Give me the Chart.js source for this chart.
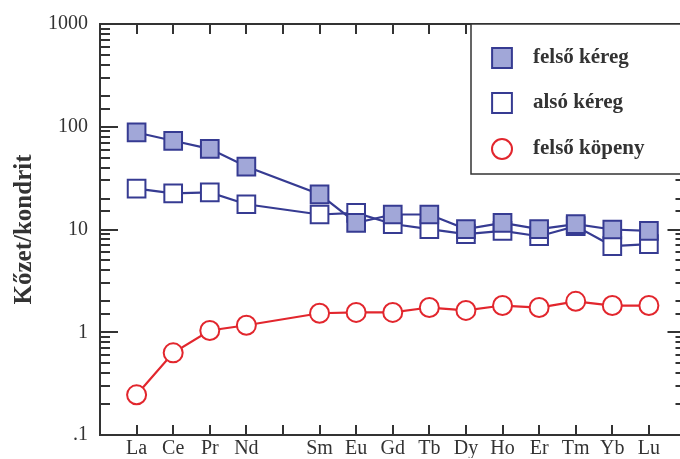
<!DOCTYPE html>
<html>
<head>
<meta charset="utf-8">
<script src="https://cdn.jsdelivr.net/npm/chart.js@4.4.1/dist/chart.umd.min.js"></script>
<style>
html, body { margin: 0; padding: 0; background: #fff; overflow: hidden; }
canvas { display: block; }
</style>
</head>
<body>
<canvas id="reeChart" width="680" height="459"></canvas>
<script>
// Chondrite-normalised REE patterns (Pm slot kept as an unlabelled tick)
const elements = ['La', 'Ce', 'Pr', 'Nd', '', 'Sm', 'Eu', 'Gd', 'Tb', 'Dy', 'Ho', 'Er', 'Tm', 'Yb', 'Lu'];
const upperCrust = [88, 73, 61, 41, null, 22, 11.6, 14, 14, 10.1, 11.6, 10.1, 11.3, 10, 9.7];
const lowerCrust = [25, 22.5, 23, 17.6, null, 14, 14.5, 11.3, 10.1, 9, 9.7, 8.6, 10.8, 6.9, 7.2];
const upperMantle = [0.246, 0.63, 1.04, 1.17, null, 1.53, 1.56, 1.56, 1.74, 1.63, 1.82, 1.74, 2.0, 1.82, 1.82];
const yTickLabels = ['.1', '1', '10', '100', '1000'];
const seriesNames = ['felső kéreg', 'alsó kéreg', 'felső köpeny'];

const navy = '#363b92';
const fillBlue = '#a1a7d8';
const red = '#e2262d';
const ink = '#333';
const serif = "'Liberation Serif', 'DejaVu Serif', serif";

const toPoints = arr => arr.map((v, i) => ({ x: i, y: v }));

// frame with inward ticks + boxed legend inside the plot.
// The original frame's right edge sits just past the image edge (x = 15).
const frameTicks = {
    id: 'frameTicks',
    afterDraw(chart) {
        const { ctx, chartArea: a, scales: { x, y } } = chart;
        const right = x.getPixelForValue(15);
        ctx.save();
        ctx.strokeStyle = ink;
        ctx.lineWidth = 2;
        ctx.strokeRect(a.left, a.top, right - a.left, a.bottom - a.top);

        ctx.beginPath();
        y.ticks.forEach(t => {
            const py = Math.round(y.getPixelForValue(t.value));
            const lg = Math.log10(t.value);
            const len = Math.abs(lg - Math.round(lg)) < 1e-6 ? 18 : 10;
            ctx.moveTo(a.left, py); ctx.lineTo(a.left + len, py);
            ctx.moveTo(right, py); ctx.lineTo(right - len, py);
        });
        x.ticks.forEach(t => {
            const px = Math.round(x.getPixelForValue(t.value));
            ctx.moveTo(px, a.bottom); ctx.lineTo(px, a.bottom - 10);
            ctx.moveTo(px, a.top); ctx.lineTo(px, a.top + 10);
        });
        ctx.stroke();

        // legend box
        ctx.fillStyle = '#fff';
        ctx.lineWidth = 1.5;
        ctx.fillRect(471, a.top, right - 471, 174 - a.top);
        ctx.strokeRect(471, a.top, right - 471, 174 - a.top);

        const rows = [58, 103, 149];
        chart.data.datasets.forEach((ds, i) => {
            ctx.fillStyle = ds.pointBackgroundColor;
            ctx.strokeStyle = ds.pointBorderColor;
            ctx.lineWidth = 2;
            Chart.helpers.drawPoint(ctx, {
                pointStyle: ds.pointStyle,
                radius: ds.pointStyle === 'rect' ? 14 : 10,
                rotation: 0,
                borderWidth: 2
            }, 502, rows[i]);
            ctx.fillStyle = ink;
            ctx.font = 'bold 21px ' + serif;
            ctx.textBaseline = 'middle';
            ctx.textAlign = 'left';
            ctx.fillText(ds.label, 533, rows[i]);
        });
        ctx.restore();
    }
};

new Chart(document.getElementById('reeChart'), {
    type: 'line',
    data: {
        datasets: [
            {
                label: seriesNames[0],
                data: toPoints(upperCrust),
                borderColor: navy,
                borderWidth: 2.2,
                pointStyle: 'rect',
                pointRadius: 12.5,
                pointBorderWidth: 2,
                pointBackgroundColor: fillBlue,
                pointBorderColor: navy,
                spanGaps: true
            },
            {
                label: seriesNames[1],
                data: toPoints(lowerCrust),
                borderColor: navy,
                borderWidth: 2.2,
                pointStyle: 'rect',
                pointRadius: 12.5,
                pointBorderWidth: 2,
                pointBackgroundColor: '#fff',
                pointBorderColor: navy,
                spanGaps: true
            },
            {
                label: seriesNames[2],
                data: toPoints(upperMantle),
                borderColor: red,
                borderWidth: 2.2,
                pointStyle: 'circle',
                pointRadius: 9.5,
                pointBorderWidth: 2,
                pointBackgroundColor: '#fff',
                pointBorderColor: red,
                spanGaps: true
            }
        ]
    },
    options: {
        responsive: false,
        animation: false,
        events: [],
        layout: { autoPadding: false, padding: { top: 22, right: 0, left: 0, bottom: 0 } },
        plugins: { legend: { display: false }, tooltip: { enabled: false } },
        scales: {
            x: {
                type: 'linear',
                min: -1,
                max: 14.85,
                afterBuildTicks: scale => {
                    scale.ticks = elements.map((e, i) => ({ value: i }));
                },
                afterFit: scale => {
                    scale.height = 23;
                    scale.paddingLeft = 0;
                    scale.paddingRight = 0;
                },
                grid: { display: false, drawTicks: false },
                border: { display: false },
                ticks: {
                    autoSkip: false,
                    maxRotation: 0,
                    padding: 2,
                    color: ink,
                    font: { family: serif, size: 20 },
                    callback: v => elements[v] || ''
                }
            },
            y: {
                type: 'logarithmic',
                min: 0.1,
                max: 1000,
                afterFit: scale => { scale.width = 100; },
                grid: { display: false, drawTicks: false },
                border: { display: false },
                title: {
                    display: true,
                    text: 'Kőzet/kondrit',
                    color: ink,
                    padding: { top: 10, bottom: 0 },
                    font: { family: serif, size: 25, weight: 'bold' }
                },
                ticks: {
                    autoSkip: false,
                    padding: 12,
                    color: ink,
                    font: { family: serif, size: 20 },
                    callback: v => {
                        const lg = Math.log10(v);
                        if (Math.abs(lg - Math.round(lg)) > 1e-6) return '';
                        return yTickLabels[Math.round(lg) + 1];
                    }
                }
            }
        }
    },
    plugins: [frameTicks]
});
</script>
</body>
</html>
